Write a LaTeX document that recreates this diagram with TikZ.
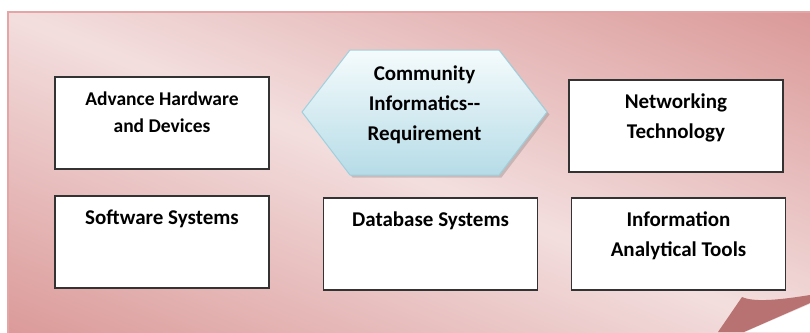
\documentclass[tikz,border=0pt]{standalone}
\usepackage{fontspec}
\setmainfont{Carlito}
\usetikzlibrary{shadows}

\definecolor{pnklight}{HTML}{F3DEDE}
\definecolor{pnkdark}{HTML}{D99594}
\definecolor{pnkedge}{HTML}{E3A5A5}
\definecolor{pnkfold}{HTML}{B87272}
\definecolor{hexedge}{HTML}{9FD0DD}
\definecolor{hextop}{HTML}{F5FBFC}
\definecolor{hexbot}{HTML}{B6DCE7}

\pgfdeclarehorizontalshading{panelshade}{100bp}{color(0bp)=(pnkdark); color(16bp)=(pnkdark); color(50bp)=(pnklight); color(84bp)=(pnkdark); color(100bp)=(pnkdark)}

\newcommand{\boxtxt}[1]{\parbox[c][92pt][t]{214pt}{\centering\rule{0pt}{28pt}#1}}

\begin{document}
\begin{tikzpicture}[x=1pt,y=-1pt,
  blk/.style={draw=black!80,line width=1.4pt,fill=white,inner sep=0pt,font=\fontsize{21}{30}\selectfont\bfseries},
  req/.style={font=\fontsize{21}{30}\selectfont\bfseries,align=center}]

\useasboundingbox (0,0) rectangle (810,332);

% background panel with folded corner
\shadedraw[draw=pnkedge,line width=1.2pt,shading=panelshade,shading angle=68] (8,12) rectangle (820,342);
\fill[white] (745,332) -- (810,304) -- (810,332) -- cycle;
\fill[pnkfold] (718,332) -- (742,297) .. controls (755,303) and (785,299) .. (810,295) -- (810,303) -- (744,332) -- cycle;

% hexagon
\path[draw=hexedge,line width=1pt,top color=hextop,bottom color=hexbot,
  drop shadow={shadow xshift=2.5pt,shadow yshift=-2.5pt,opacity=.35}]
  (302,112) -- (350,50) -- (499,50) -- (547,112) -- (499,175) -- (350,175) -- cycle;
\node(ci) at (424.5,105)[req] {Community\\Informatics-{}-\\Requirement};

% boxes
\node(hw) at (162,123)[blk] {\boxtxt{\fontsize{19.5}{27}\selectfont Advance Hardware\\and Devices}};
\node(sw) at (162,242)[blk] {\boxtxt{Software Systems}};
\node(db) at (430.5,244)[blk] {\boxtxt{Database Systems}};
\node(nt) at (676,126)[blk] {\boxtxt{Networking\\Technology}};
\node(ia) at (678.5,244)[blk] {\boxtxt{Information\\Analytical Tools}};

\end{tikzpicture}
\end{document}
